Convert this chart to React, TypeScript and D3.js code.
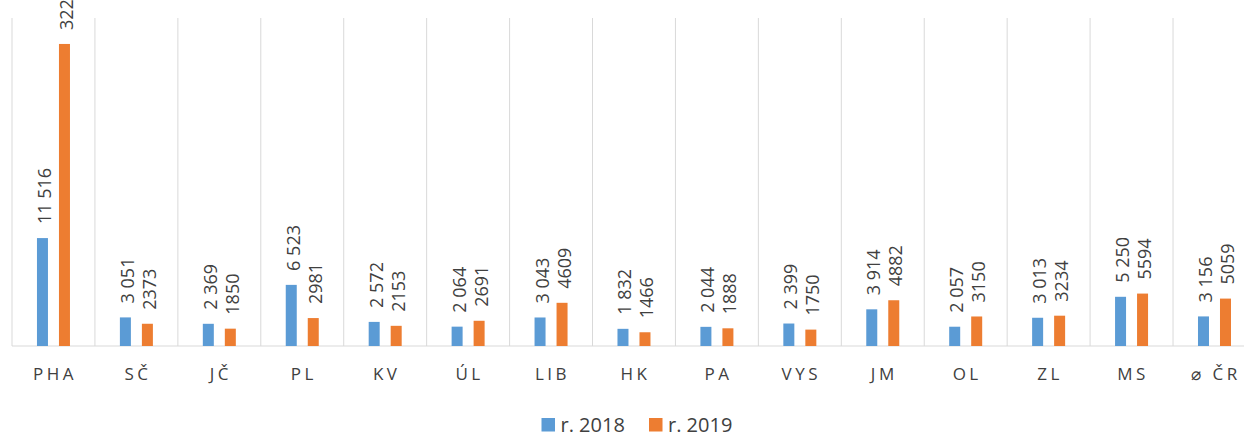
import React from "react";
import * as d3 from "d3";

const categories = ["PHA", "SČ", "JČ", "PL", "KV", "ÚL", "LIB", "HK", "PA", "VYS", "JM", "OL", "ZL", "MS", "⌀ ČR"];
const values2018 = [11516, 3051, 2369, 6523, 2572, 2064, 3043, 1832, 2044, 2399, 3914, 2057, 3013, 5250, 3156];
const values2019 = [32230, 2373, 1850, 2981, 2153, 2691, 4609, 1466, 1888, 1750, 4882, 3150, 3234, 5594, 5059];
const seriesNames = ["r. 2018", "r. 2019"];
const seriesColors = ["#5B9BD5", "#ED7D31"];

const W = 1244;
const H = 435;
const plotLeft = 12;
const bandW = 82.93;
const plotTop = 18;
const baseY = 346;

const fmt2018 = (v: number) => {
  const s = String(v);
  return s.length > 3 ? s.slice(0, s.length - 3) + " " + s.slice(s.length - 3) : s;
};
const fmt2019 = (v: number) => String(v);

export default function App() {
  const x = d3.scaleBand<string>().domain(categories).range([plotLeft, plotLeft + bandW * categories.length]).padding(0);
  const y = d3.scaleLinear().domain([0, 35000]).range([baseY, plotTop]);
  const x1 = d3.scaleBand<string>().domain(seriesNames).range([-16.5, 16.5]).paddingInner(0.5).paddingOuter(0);
  const series = [values2018, values2019];
  const fmts = [fmt2018, fmt2019];
  const font = "'Open Sans', sans-serif";
  const boundaries = d3.range(categories.length + 1).map((i) => plotLeft + i * bandW);

  return (
    <svg width={W} height={H} style={{ position: "absolute", left: 0, top: 0, background: "#fff" }} fontFamily={font}>
      <rect x={0} y={0} width={W} height={H} fill="#fff" />
      {boundaries.map((bx, i) => (
        <line key={"g" + i} x1={bx} x2={bx} y1={plotTop} y2={baseY} stroke="#d9d9d9" strokeWidth={1} />
      ))}
      <line x1={plotLeft} x2={W} y1={baseY} y2={baseY} stroke="#d9d9d9" strokeWidth={1} />
      {categories.map((c, i) => {
        const cx = (x(c) as number) + x.bandwidth() / 2;
        return (
          <g key={c}>
            {series.map((vals, s) => {
              const bx = cx + (x1(seriesNames[s]) as number);
              const top = y(vals[i]);
              const lx = bx + x1.bandwidth() / 2 + 1.5;
              const ly = top - 14;
              return (
                <g key={s}>
                  <rect x={bx} y={top} width={x1.bandwidth()} height={baseY - top} fill={seriesColors[s]} />
                  <text
                    x={lx}
                    y={ly}
                    transform={`rotate(-90 ${lx} ${ly})`}
                    fontSize={18}
                    fill="#404040"
                    dominantBaseline="central"
                    textAnchor="start"
                  >
                    {fmts[s](vals[i])}
                  </text>
                </g>
              );
            })}
            <text x={cx + 1.5} y={380} fontSize={17} letterSpacing={3.5} fill="#404040" textAnchor="middle">
              {c}
            </text>
          </g>
        );
      })}
      {seriesNames.map((n, s) => {
        const lx = [541.5, 649][s];
        return (
          <g key={n}>
            <rect x={lx} y={418} width={13.5} height={13.5} fill={seriesColors[s]} />
            <text x={lx + 19} y={431.5} fontSize={20} fill="#404040">
              {n}
            </text>
          </g>
        );
      })}
    </svg>
  );
}
